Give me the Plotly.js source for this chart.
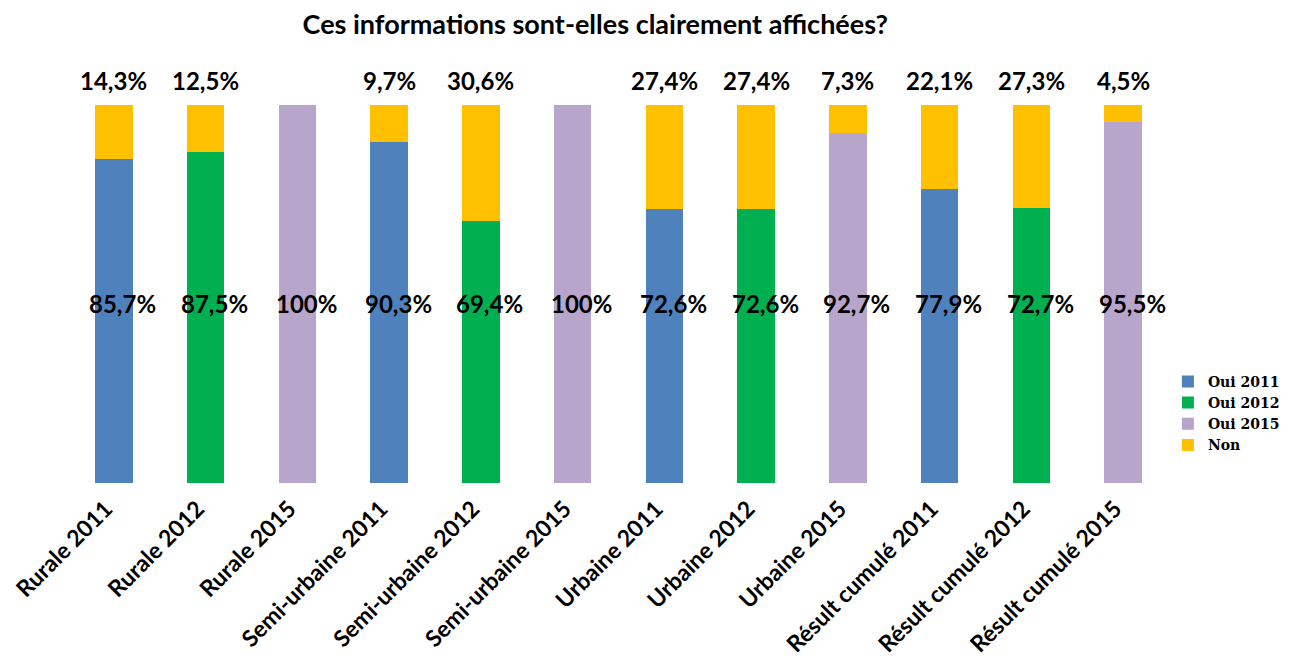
<!DOCTYPE html>
<html>
<head>
<meta charset="utf-8">
<script src="https://cdn.plot.ly/plotly-3.0.1.min.js"></script>
<style>html,body{margin:0;padding:0;background:#fff;}#chart{width:1297px;height:656px;}</style>
</head>
<body>
<div id="chart"></div>
<script>
const categories = ["Rurale 2011","Rurale 2012","Rurale 2015","Semi-urbaine 2011","Semi-urbaine 2012","Semi-urbaine 2015","Urbaine 2011","Urbaine 2012","Urbaine 2015","Résult cumulé 2011","Résult cumulé 2012","Résult cumulé 2015"];
const oui2011 = [85.7,null,null,90.3,null,null,72.6,null,null,77.9,null,null];
const oui2012 = [null,87.5,null,null,69.4,null,null,72.6,null,null,72.7,null];
const oui2015 = [null,null,100,null,null,100,null,null,92.7,null,null,95.5];
const non = [14.3,12.5,0,9.7,30.6,0,27.4,27.4,7.3,22.1,27.3,4.5];
const ouiLabels = ["85,7%","87,5%","100%","90,3%","69,4%","100%","72,6%","72,6%","92,7%","77,9%","72,7%","95,5%"];
const nonLabels = ["14,3%","12,5%","","9,7%","30,6%","","27,4%","27,4%","7,3%","22,1%","27,3%","4,5%"];

const colors = {o11:"#4F81BD", o12:"#00B050", o15:"#B7A5CC", non:"#FFC000"};
const bw = 0.41;

const traces = [
  {type:"bar", name:"Oui 2011", x:categories, y:oui2011, width:bw, marker:{color:colors.o11}, hoverinfo:"skip"},
  {type:"bar", name:"Oui 2012", x:categories, y:oui2012, width:bw, marker:{color:colors.o12}, hoverinfo:"skip"},
  {type:"bar", name:"Oui 2015", x:categories, y:oui2015, width:bw, marker:{color:colors.o15}, hoverinfo:"skip"},
  {type:"bar", name:"Non", x:categories, y:non, width:bw, marker:{color:colors.non}, hoverinfo:"skip"}
];

const fam = "Lato, 'Open Sans', sans-serif";
const labelFont = {family:fam, size:24, color:"#000", weight:"bold"};
const annotations = [];
categories.forEach((c,i)=>{
  annotations.push({x:c, y:47, xref:"x", yref:"y", text:"<b>"+ouiLabels[i]+"</b>", showarrow:false, xshift:9, yshift:2, font:labelFont});
  if(nonLabels[i]) annotations.push({x:c, y:100, xref:"x", yref:"y", text:"<b>"+nonLabels[i]+"</b>", showarrow:false, yshift:25, font:labelFont});
});

const layout = {
  width:1297, height:656,
  paper_bgcolor:"#fff", plot_bgcolor:"#fff",
  margin:{l:68, r:108, t:105, b:173},
  barmode:"stack",
  showlegend:true,
  title:{text:"<b>Ces informations sont-elles clairement affichées?</b>", x:0.459, xref:"container", xanchor:"center", y:0.962, yref:"container", yanchor:"middle", font:{family:fam, size:27, color:"#000"}},
  xaxis:{type:"category", range:[-0.5,11.5], tickangle:-45, showgrid:false, zeroline:false, showline:false, ticks:"", ticklabelstandoff:7, ticklabelshift:-8, tickfont:{family:fam, size:23, color:"#000", weight:"bold"}},
  yaxis:{range:[0,100], visible:false, showgrid:false, zeroline:false},
  legend:{x:0.999, xanchor:"left", y:0.31, yanchor:"top", traceorder:"normal", font:{family:"'DejaVu Serif', 'Liberation Serif', serif", size:14, color:"#000", weight:"bold"}, itemwidth:30, tracegroupgap:0, bgcolor:"rgba(0,0,0,0)"},
  annotations:annotations
};

Plotly.newPlot("chart", traces, layout, {displayModeBar:false, staticPlot:true});
</script>
</body>
</html>
